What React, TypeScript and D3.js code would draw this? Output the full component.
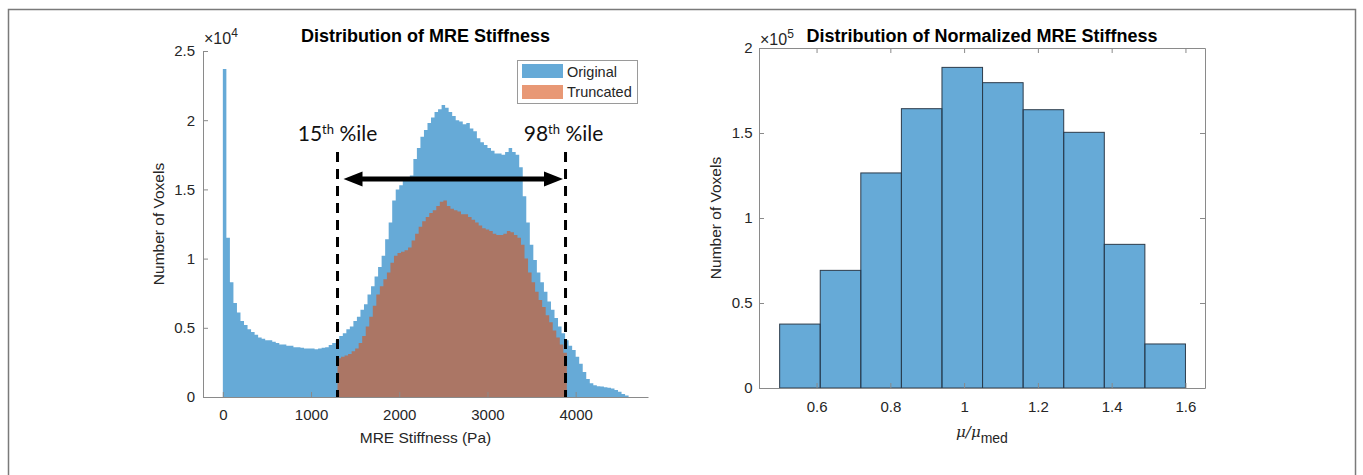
import React from "react";
import * as d3 from "d3";

// MRE stiffness histogram, 40 Pa bins from 0 Pa (counts x 10^4)
const stiffBinStart = 0;
const stiffBinWidth = 40;
const originalCounts = [
    2.37, 1.15, 0.83, 0.68, 0.61, 0.55, 0.52, 0.49, 0.47, 0.45,
    0.43, 0.42, 0.41, 0.41, 0.4, 0.39, 0.38, 0.38, 0.37, 0.37,
    0.36, 0.36, 0.355, 0.35, 0.35, 0.35, 0.345, 0.35, 0.355, 0.36,
    0.375, 0.39, 0.41, 0.44, 0.46, 0.49, 0.51, 0.55, 0.58, 0.63,
    0.67, 0.74, 0.8, 0.87, 0.94, 1.02, 1.14, 1.26, 1.42, 1.5,
    1.53, 1.57, 1.58, 1.6, 1.72, 1.8, 1.88, 1.93, 1.98, 2.02,
    2.06, 2.08, 2.11, 2.09, 2.06, 2.03, 2.0, 1.99, 1.97, 1.98,
    1.94, 1.92, 1.87, 1.84, 1.82, 1.8, 1.78, 1.76, 1.76, 1.75,
    1.77, 1.8, 1.77, 1.75, 1.66, 1.45, 1.26, 1.1, 0.99, 0.9,
    0.83, 0.76, 0.69, 0.63, 0.57, 0.51, 0.46, 0.41, 0.37, 0.34,
    0.29, 0.24, 0.18, 0.13, 0.1, 0.085, 0.078, 0.075, 0.07, 0.066,
    0.062, 0.05, 0.038, 0.022, 0.01,
];
// truncated histogram, 40 Pa bins from the 15th percentile
const truncBinStart = 1300;
const truncatedCounts = [
    0.28, 0.29, 0.3, 0.31, 0.33, 0.35, 0.39, 0.44, 0.51, 0.58,
    0.66, 0.74, 0.8, 0.85, 0.9, 0.97, 1.02, 1.04, 1.05, 1.06,
    1.08, 1.13, 1.18, 1.23, 1.27, 1.3, 1.33, 1.35, 1.38, 1.41,
    1.42, 1.38, 1.36, 1.35, 1.34, 1.32, 1.32, 1.3, 1.28, 1.26,
    1.24, 1.22, 1.21, 1.2, 1.18, 1.17, 1.17, 1.18, 1.2, 1.19,
    1.17, 1.15, 1.1, 1.0, 0.9, 0.83, 0.76, 0.7, 0.65, 0.59,
    0.54, 0.48, 0.43, 0.38, 0.32,
];
const pctValues = [1300, 3885];
const pctLabels = ["15", "98"];
const stiffTicksX = [0, 1000, 2000, 3000, 4000];
const stiffTicksY = [0, 0.5, 1, 1.5, 2, 2.5];
const legendLabels = ["Original", "Truncated"];

// normalized stiffness histogram (counts x 10^5)
const normEdges = [0.5, 0.61, 0.72, 0.83, 0.94, 1.05, 1.16, 1.27, 1.38, 1.49, 1.6];
const normCounts = [0.376, 0.692, 1.265, 1.643, 1.886, 1.796, 1.637, 1.504, 0.845, 0.259];
const normTicksX = [0.6, 0.8, 1, 1.2, 1.4, 1.6];
const normTicksY = [0, 0.5, 1, 1.5, 2];

const blue = "#0072BD";
const orange = "#D95319";
const axisColor = "#8a8a8a";
const textColor = "#262626";
const font = "'Liberation Sans', Arial, Helvetica, sans-serif";

export default function App() {
    const ref = React.useRef<SVGSVGElement>(null);

    React.useEffect(() => {
        drawChart();
    }, []);

    function styleAxis(g: any, size: number) {
        g.attr("font-family", font).attr("font-size", size);
        g.select(".domain").attr("stroke", axisColor);
        g.selectAll(".tick line").attr("stroke", axisColor);
        g.selectAll(".tick text").attr("fill", textColor);
    }

    function drawChart() {
        const svg = d3.select(ref.current);
        svg.selectAll("*").remove();

        // outer figure frame
        svg.append("rect")
            .attr("x", 8.5)
            .attr("y", 9.5)
            .attr("width", 1347)
            .attr("height", 480)
            .attr("fill", "none")
            .attr("stroke", "#7a7a7a")
            .attr("stroke-width", 1.5);

        // ---------- left chart ----------
        const xL = d3.scaleLinear().domain([-225, 4820]).range([203, 648]);
        const yL = d3.scaleLinear().domain([0, 2.5]).range([397, 51]);

        const area = d3
            .area<number[]>()
            .x((d) => xL(d[0]))
            .y0(yL(0))
            .y1((d) => yL(d[1]))
            .curve(d3.curveStepAfter);
        const stepPts = (start: number, counts: number[]) => [
            ...counts.map((v, i) => [start + i * stiffBinWidth, v]),
            [start + counts.length * stiffBinWidth, counts[counts.length - 1]],
        ];

        svg.append("path")
            .attr("d", area(stepPts(stiffBinStart, originalCounts)))
            .attr("fill", blue)
            .attr("fill-opacity", 0.6);
        svg.append("path")
            .attr("d", area(stepPts(truncBinStart, truncatedCounts)))
            .attr("fill", orange)
            .attr("fill-opacity", 0.6);

        const gx = svg.append("g")
            .attr("transform", `translate(0,${yL(0)})`)
            .call(
                d3.axisBottom(xL)
                    .tickValues(stiffTicksX)
                    .tickFormat((d: any) => String(d))
                    .tickSizeInner(-5)
                    .tickSizeOuter(0)
                    .tickPadding(12)
            );
        styleAxis(gx, 15);
        const gy = svg.append("g")
            .attr("transform", `translate(${xL.range()[0]},0)`)
            .call(
                d3.axisLeft(yL)
                    .tickValues(stiffTicksY)
                    .tickFormat((d: any) => String(d))
                    .tickSizeInner(-5)
                    .tickSizeOuter(0)
                    .tickPadding(8)
            );
        styleAxis(gy, 15);

        svg.append("text")
            .attr("x", (xL.range()[0] + xL.range()[1]) / 2)
            .attr("y", 42)
            .attr("text-anchor", "middle")
            .attr("font-family", font)
            .attr("font-size", 18)
            .attr("font-weight", "bold")
            .attr("fill", "#000")
            .text("Distribution of MRE Stiffness");

        const expL = svg.append("text")
            .attr("x", 204)
            .attr("y", 44)
            .attr("font-family", font)
            .attr("font-size", 16)
            .attr("fill", textColor);
        expL.append("tspan").text("\u00d710");
        expL.append("tspan").attr("dy", -7).attr("font-size", 12).text("4");

        svg.append("text")
            .attr("transform", `translate(164,${(yL(0) + yL(2.5)) / 2}) rotate(-90)`)
            .attr("text-anchor", "middle")
            .attr("font-family", font)
            .attr("font-size", 15.5)
            .attr("fill", textColor)
            .text("Number of Voxels");
        svg.append("text")
            .attr("x", (xL.range()[0] + xL.range()[1]) / 2)
            .attr("y", 442.5)
            .attr("text-anchor", "middle")
            .attr("font-family", font)
            .attr("font-size", 15.5)
            .attr("fill", textColor)
            .text("MRE Stiffness (Pa)");

        // percentile annotations
        const lineTop = yL(1.77);
        const arrowY = yL(1.575);
        const labelY = yL(1.85);
        pctValues.forEach((p, i) => {
            svg.append("line")
                .attr("x1", xL(p))
                .attr("x2", xL(p))
                .attr("y1", lineTop)
                .attr("y2", yL(0))
                .attr("stroke", "#000")
                .attr("stroke-width", 3)
                .attr("stroke-dasharray", "10,7");
            const t = svg.append("text")
                .attr("x", xL(p) - (i === 1 ? 2 : 0))
                .attr("y", labelY)
                .attr("text-anchor", "middle")
                .attr("font-family", "Lato, 'Open Sans', sans-serif")
                .attr("font-size", 21)
                .attr("fill", "#111");
            t.append("tspan").text(pctLabels[i]);
            t.append("tspan").attr("dy", -7).attr("font-size", 13).text("th");
            t.append("tspan").attr("dy", 7).text(" %ile");
        });
        const ax1 = xL(pctValues[0]) + 6;
        const ax2 = xL(pctValues[1]) - 2.5;
        svg.append("line")
            .attr("x1", ax1 + 12)
            .attr("x2", ax2 - 12)
            .attr("y1", arrowY)
            .attr("y2", arrowY)
            .attr("stroke", "#000")
            .attr("stroke-width", 5);
        svg.append("path")
            .attr("d", `M${ax1},${arrowY}L${ax1 + 19},${arrowY - 7.5}L${ax1 + 19},${arrowY + 7.5}Z`)
            .attr("fill", "#000");
        svg.append("path")
            .attr("d", `M${ax2},${arrowY}L${ax2 - 19},${arrowY - 7.5}L${ax2 - 19},${arrowY + 7.5}Z`)
            .attr("fill", "#000");

        // legend
        const leg = svg.append("g").attr("transform", "translate(517,60)");
        leg.append("rect")
            .attr("x", 0.5)
            .attr("y", 0.5)
            .attr("width", 120)
            .attr("height", 43)
            .attr("fill", "#fff")
            .attr("stroke", "#9a9a9a");
        legendLabels.forEach((lab, i) => {
            leg.append("rect")
                .attr("x", 5)
                .attr("y", 4 + i * 21)
                .attr("width", 41)
                .attr("height", 14)
                .attr("fill", i === 0 ? blue : orange)
                .attr("fill-opacity", 0.6);
            leg.append("text")
                .attr("x", 50)
                .attr("y", 16.5 + i * 20.5)
                .attr("font-family", font)
                .attr("font-size", 14.5)
                .attr("fill", textColor)
                .text(lab);
        });

        // ---------- right chart ----------
        const xR = d3.scaleLinear().domain([0.444, 1.653]).range([759, 1205]);
        const yR = d3.scaleLinear().domain([0, 2]).range([388, 48]);

        svg.append("g")
            .selectAll("rect")
            .data(normCounts)
            .enter()
            .append("rect")
            .attr("x", (d, i) => xR(normEdges[i]))
            .attr("width", (d, i) => xR(normEdges[i + 1]) - xR(normEdges[i]))
            .attr("y", (d) => yR(d))
            .attr("height", (d) => yR(0) - yR(d))
            .attr("fill", blue)
            .attr("fill-opacity", 0.6)
            .attr("stroke", "#2c3b4b")
            .attr("stroke-width", 1);

        const rb = svg.append("g")
            .attr("transform", `translate(0,${yR(0)})`)
            .call(
                d3.axisBottom(xR)
                    .tickValues(normTicksX)
                    .tickFormat((d: any) => String(d))
                    .tickSizeInner(-5)
                    .tickSizeOuter(0)
                    .tickPadding(13.5)
            );
        styleAxis(rb, 15);
        const rt = svg.append("g")
            .attr("transform", `translate(0,${yR(2)})`)
            .call(d3.axisTop(xR).tickValues(normTicksX).tickFormat(() => "").tickSizeInner(-5).tickSizeOuter(0));
        styleAxis(rt, 15);
        const rl = svg.append("g")
            .attr("transform", `translate(${xR.range()[0]},0)`)
            .call(
                d3.axisLeft(yR)
                    .tickValues(normTicksY)
                    .tickFormat((d: any) => String(d))
                    .tickSizeInner(-5)
                    .tickSizeOuter(0)
                    .tickPadding(6.5)
            );
        styleAxis(rl, 15);
        const rr = svg.append("g")
            .attr("transform", `translate(${xR.range()[1]},0)`)
            .call(d3.axisRight(yR).tickValues(normTicksY).tickFormat(() => "").tickSizeInner(-5).tickSizeOuter(0));
        styleAxis(rr, 15);

        svg.append("text")
            .attr("x", (xR.range()[0] + xR.range()[1]) / 2)
            .attr("y", 42)
            .attr("text-anchor", "middle")
            .attr("font-family", font)
            .attr("font-size", 18)
            .attr("font-weight", "bold")
            .attr("fill", "#000")
            .text("Distribution of Normalized MRE Stiffness");

        const expR = svg.append("text")
            .attr("x", 760)
            .attr("y", 45)
            .attr("font-family", font)
            .attr("font-size", 16)
            .attr("fill", textColor);
        expR.append("tspan").text("\u00d710");
        expR.append("tspan").attr("dy", -7).attr("font-size", 12).text("5");

        svg.append("text")
            .attr("transform", `translate(721,${(yR(0) + yR(2)) / 2}) rotate(-90)`)
            .attr("text-anchor", "middle")
            .attr("font-family", font)
            .attr("font-size", 15.5)
            .attr("fill", textColor)
            .text("Number of Voxels");

        const xlab = svg.append("text")
            .attr("x", (xR.range()[0] + xR.range()[1]) / 2)
            .attr("y", 436.5)
            .attr("text-anchor", "middle")
            .attr("font-family", font)
            .attr("font-size", 15.5)
            .attr("fill", textColor);
        xlab.append("tspan").attr("font-style", "italic").attr("font-family", "'DejaVu Serif', serif").attr("font-size", 15).text("\u03bc/\u03bc");
        xlab.append("tspan").attr("dy", 6).attr("font-size", 14).text("med");
    }

    return (
        <div>
            <style>{"body{margin:0}"}</style>
            <svg ref={ref} width={1363} height={475} style={{ display: "block", background: "#fff" }} />
        </div>
    );
}
